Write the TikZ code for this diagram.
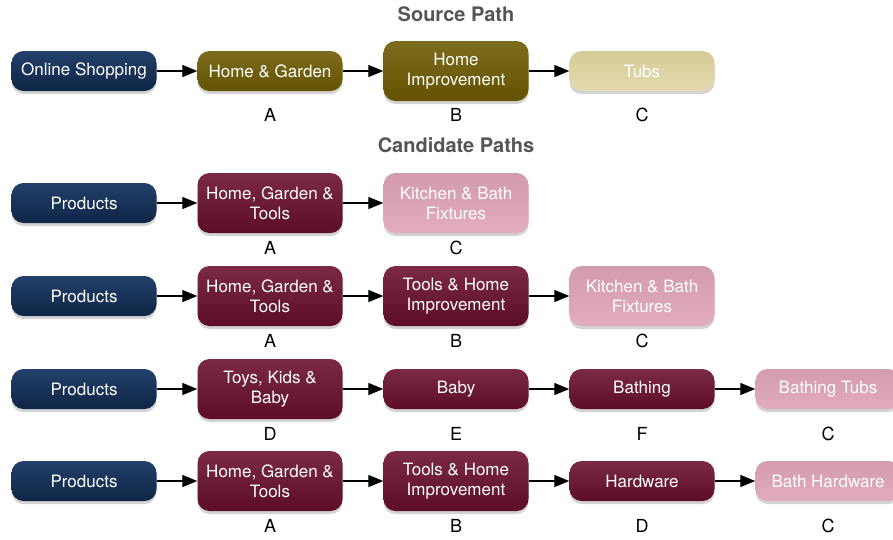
\documentclass[tikz,border=0pt]{standalone}
\usepackage{fontspec}
\setmainfont{TeX Gyre Heros}
\usetikzlibrary{shadows,arrows.meta}
\definecolor{navyT}{HTML}{22406A}
\definecolor{navyB}{HTML}{0F2546}
\definecolor{oliveT}{HTML}{7C6C1E}
\definecolor{oliveB}{HTML}{635200}
\definecolor{tanT}{HTML}{D5CB97}
\definecolor{tanB}{HTML}{E3DBB0}
\definecolor{maroonT}{HTML}{7C2A44}
\definecolor{maroonB}{HTML}{5C0C27}
\definecolor{pinkT}{HTML}{D29CAD}
\definecolor{pinkB}{HTML}{E2ACBD}
\definecolor{titlegray}{HTML}{555555}
\tikzset{
  pbox/.style={rounded corners=12pt, minimum width=145pt, minimum height=40pt,
    inner sep=2pt, align=center, text=white, font=\fontsize{17}{20}\selectfont,
    drop shadow={opacity=0.35, shadow xshift=0pt, shadow yshift=-3pt}},
  tall/.style={minimum height=60pt},
  root/.style={pbox, top color=navyT, bottom color=navyB},
  srccat/.style={pbox, top color=oliveT, bottom color=oliveB},
  srcleaf/.style={pbox, top color=tanT, bottom color=tanB},
  cat/.style={pbox, top color=maroonT, bottom color=maroonB},
  leaf/.style={pbox, top color=pinkT, bottom color=pinkB},
  lvl/.style={font=\fontsize{18}{20}\selectfont},
  ttl/.style={font=\fontsize{20}{22}\selectfont\bfseries, text=titlegray},
  link/.style={-{Triangle[length=15pt,width=12pt]}, line width=1.3pt}
}
\begin{document}
\begin{tikzpicture}[x=1pt,y=-1pt]
\useasboundingbox (0,0) rectangle (893,539);
% source path
\node[ttl] (srcttl) at (456,14) {Source Path};
\node[root] (s0) at (84,71) {Online Shopping};
\node[srccat] (s1) at (270,71) {Home \& Garden};
\node[srccat,tall] (s2) at (456,71) {Home\\Improvement};
\node[srcleaf] (s3) at (642,71) {Tubs};
\draw[link] (s0) -- (s1);
\draw[link] (s1) -- (s2);
\draw[link] (s2) -- (s3);
\node[lvl] (ls1) at (270,115) {A};
\node[lvl] (ls2) at (456,115) {B};
\node[lvl] (ls3) at (642,115) {C};
% candidate paths
\node[ttl] (candttl) at (456,145) {Candidate Paths};
% path 1
\node[root] (a0) at (84,203) {Products};
\node[cat,tall] (a1) at (270,203) {Home, Garden \&\\Tools};
\node[leaf,tall] (a2) at (456,203) {Kitchen \& Bath\\Fixtures};
\draw[link] (a0) -- (a1);
\draw[link] (a1) -- (a2);
\node[lvl] (la1) at (270,248) {A};
\node[lvl] (la2) at (456,248) {C};
% path 2
\node[root] (b0) at (84,296) {Products};
\node[cat,tall] (b1) at (270,296) {Home, Garden \&\\Tools};
\node[cat,tall] (b2) at (456,296) {Tools \& Home\\Improvement};
\node[leaf,tall] (b3) at (642,296) {Kitchen \& Bath\\Fixtures};
\draw[link] (b0) -- (b1);
\draw[link] (b1) -- (b2);
\draw[link] (b2) -- (b3);
\node[lvl] (lb1) at (270,341) {A};
\node[lvl] (lb2) at (456,341) {B};
\node[lvl] (lb3) at (642,341) {C};
% path 3
\node[root] (c0) at (84,389) {Products};
\node[cat,tall] (c1) at (270,389) {Toys, Kids \&\\Baby};
\node[cat] (c2) at (456,389) {Baby};
\node[cat] (c3) at (642,389) {Bathing};
\node[leaf] (c4) at (828,389) {Bathing Tubs};
\draw[link] (c0) -- (c1);
\draw[link] (c1) -- (c2);
\draw[link] (c2) -- (c3);
\draw[link] (c3) -- (c4);
\node[lvl] (lc1) at (270,434) {D};
\node[lvl] (lc2) at (456,434) {E};
\node[lvl] (lc3) at (642,434) {F};
\node[lvl] (lc4) at (828,434) {C};
% path 4
\node[root] (d0) at (84,481) {Products};
\node[cat,tall] (d1) at (270,481) {Home, Garden \&\\Tools};
\node[cat,tall] (d2) at (456,481) {Tools \& Home\\Improvement};
\node[cat] (d3) at (642,481) {Hardware};
\node[leaf] (d4) at (828,481) {Bath Hardware};
\draw[link] (d0) -- (d1);
\draw[link] (d1) -- (d2);
\draw[link] (d2) -- (d3);
\draw[link] (d3) -- (d4);
\node[lvl] (ld1) at (270,526) {A};
\node[lvl] (ld2) at (456,526) {B};
\node[lvl] (ld3) at (642,526) {D};
\node[lvl] (ld4) at (828,526) {C};
\end{tikzpicture}
\end{document}
